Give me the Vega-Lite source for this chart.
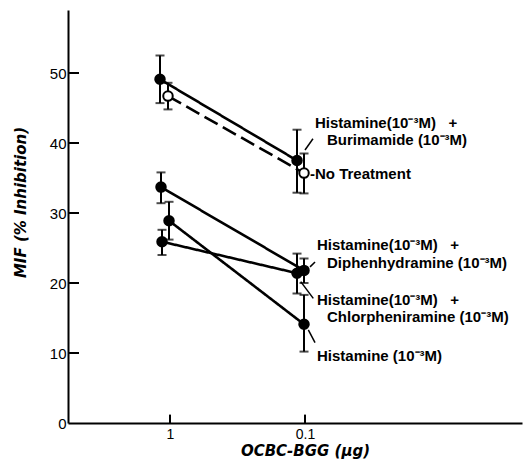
{
  "$schema": "https://vega.github.io/schema/vega-lite/v6.json",
  "width": 454,
  "height": 413,
  "autosize": "none",
  "padding": {"left": 68, "top": 10, "right": 3, "bottom": 52},
  "background": "white",
  "config": {"view": {"stroke": null}, "font": "Liberation Sans"},
  "datasets": {
    "pts": [
      {"series": "Burimamide", "dose": 1, "x": 1.186, "y": 49.1, "lo": 45.7, "hi": 52.5, "open": "no", "dash": "solid"},
      {"series": "Burimamide", "dose": 0.1, "x": 0.1146, "y": 37.5, "lo": 32.9, "hi": 41.9, "open": "no", "dash": "solid"},
      {"series": "No Treatment", "dose": 1, "x": 1.035, "y": 46.7, "lo": 44.8, "hi": 48.6, "open": "yes", "dash": "dashed"},
      {"series": "No Treatment", "dose": 0.1, "x": 0.1017, "y": 35.7, "lo": 32.8, "hi": 38.5, "open": "yes", "dash": "dashed"},
      {"series": "Diphenhydramine", "dose": 1, "x": 1.166, "y": 33.7, "lo": 31.4, "hi": 35.8, "open": "no", "dash": "solid"},
      {"series": "Diphenhydramine", "dose": 0.1, "x": 0.1017, "y": 21.8, "lo": 20.0, "hi": 23.5, "open": "no", "dash": "solid"},
      {"series": "Chlorpheniramine", "dose": 1, "x": 1.146, "y": 25.9, "lo": 24.0, "hi": 27.6, "open": "no", "dash": "solid"},
      {"series": "Chlorpheniramine", "dose": 0.1, "x": 0.1146, "y": 21.4, "lo": 18.5, "hi": 24.2, "open": "no", "dash": "solid"},
      {"series": "Histamine", "dose": 1, "x": 1.017, "y": 28.9, "lo": 26.2, "hi": 31.6, "open": "no", "dash": "solid"},
      {"series": "Histamine", "dose": 0.1, "x": 0.1017, "y": 14.1, "lo": 10.2, "hi": 18.3, "open": "no", "dash": "solid"}
    ],
    "labels": [
      {"label": "Histamine(10⁻³M)\u00a0\u00a0\u00a0+", "x": 0.0843, "y": 42.9},
      {"label": "Burimamide (10⁻³M)", "x": 0.0687, "y": 40.43},
      {"label": "-No Treatment", "x": 0.0918, "y": 35.57},
      {"label": "Histamine(10⁻³M)\u00a0\u00a0\u00a0+", "x": 0.0815, "y": 25.43},
      {"label": "Diphenhydramine (10⁻³M)", "x": 0.0687, "y": 22.9},
      {"label": "Histamine(10⁻³M)\u00a0\u00a0\u00a0+", "x": 0.0815, "y": 17.57},
      {"label": "Chlorpheniramine (10⁻³M)", "x": 0.0687, "y": 15.14},
      {"label": "Histamine (10⁻³M)", "x": 0.0815, "y": 9.57}
    ],
    "leaders": [
      {"x": 0.1, "y": 39.0, "x2": 0.0873, "y2": 40.6},
      {"x": 0.0918, "y": 22.3, "x2": 0.0843, "y2": 23.0},
      {"x": 0.1076, "y": 20.19, "x2": 0.0868, "y2": 17.81},
      {"x": 0.0945, "y": 13.29, "x2": 0.0843, "y2": 11.47}
    ],
    "yticks": [
      {"x": 5.696, "x2": 4.722, "y": 10},
      {"x": 5.696, "x2": 4.722, "y": 20},
      {"x": 5.696, "x2": 4.722, "y": 30},
      {"x": 5.696, "x2": 4.722, "y": 40},
      {"x": 5.696, "x2": 4.722, "y": 50}
    ],
    "xticks": [
      {"x": 1, "y": 0, "y2": 1.2},
      {"x": 0.1, "y": 0, "y2": 1.2}
    ]
  },
  "encoding": {
    "x": {
      "field": "x", "type": "quantitative",
      "scale": {"type": "log", "domain": [5.696, 0.00247], "nice": false, "zero": false},
      "axis": {
        "values": [1, 0.1], "labelExpr": "datum.value >= 0.5 ? '1' : '0.1'",
        "grid": false, "domainColor": "black", "domainWidth": 2,
        "ticks": false, "labelPadding": 4,
        "labelFontSize": 14, "labelColor": "black", "labelFont": "Liberation Sans",
        "title": "OCBC-BGG (μg)", "titleFont": "DejaVu Sans", "titleFontStyle": "italic",
        "titleFontWeight": "bold", "titleFontSize": 15, "titleColor": "black",
        "titleX": 237, "titleY": 20, "titleAnchor": "middle", "titleAlign": "center"
      }
    },
    "y": {
      "field": "y", "type": "quantitative",
      "scale": {"domain": [0, 59], "nice": false},
      "axis": {
        "values": [0, 10, 20, 30, 40, 50], "grid": false, "domainColor": "black", "domainWidth": 2,
        "ticks": false, "labelPadding": 2,
        "labelFontSize": 15, "labelColor": "black", "labelFont": "Liberation Sans",
        "title": "MIF (% Inhibition)", "titleFont": "DejaVu Sans", "titleFontStyle": "italic",
        "titleFontWeight": "bold", "titleFontSize": 15, "titleColor": "black",
        "titleX": -40, "titleY": 192, "titleAnchor": "middle", "titleAlign": "center"
      }
    }
  },
  "layer": [
    {
      "data": {"name": "yticks"},
      "mark": {"type": "rule", "color": "black", "strokeWidth": 2},
      "encoding": {"x2": {"field": "x2"}}
    },
    {
      "data": {"name": "xticks"},
      "mark": {"type": "rule", "color": "black", "strokeWidth": 2},
      "encoding": {"y2": {"field": "y2"}}
    },
    {
      "data": {"name": "pts"},
      "mark": {"type": "line", "color": "black", "strokeWidth": 2.6},
      "encoding": {
        "detail": {"field": "series"},
        "strokeDash": {"field": "dash", "type": "nominal", "scale": {"domain": ["solid", "dashed"], "range": [[1, 0], [15, 6]]}, "legend": null}
      }
    },
    {
      "data": {"name": "pts"},
      "mark": {"type": "rule", "color": "black", "strokeWidth": 2},
      "encoding": {"y": {"field": "lo", "type": "quantitative"}, "y2": {"field": "hi"}}
    },
    {
      "data": {"name": "pts"},
      "mark": {"type": "tick", "orient": "horizontal", "color": "black", "size": 9, "thickness": 2},
      "encoding": {"y": {"field": "lo", "type": "quantitative"}}
    },
    {
      "data": {"name": "pts"},
      "mark": {"type": "tick", "orient": "horizontal", "color": "black", "size": 9, "thickness": 2},
      "encoding": {"y": {"field": "hi", "type": "quantitative"}}
    },
    {
      "data": {"name": "pts"},
      "mark": {"type": "point", "shape": "circle", "size": 90, "stroke": "black", "strokeWidth": 2, "opacity": 1},
      "encoding": {
        "fill": {"field": "open", "type": "nominal", "scale": {"domain": ["no", "yes"], "range": ["black", "white"]}, "legend": null}
      }
    },
    {
      "data": {"name": "leaders"},
      "mark": {"type": "rule", "color": "black", "strokeWidth": 1.5},
      "encoding": {"x2": {"field": "x2"}, "y2": {"field": "y2"}}
    },
    {
      "data": {"name": "labels"},
      "mark": {"type": "text", "align": "left", "baseline": "middle", "font": "Liberation Sans", "fontSize": 15, "fontWeight": "bold", "color": "black"},
      "encoding": {"text": {"field": "label"}}
    }
  ]
}
